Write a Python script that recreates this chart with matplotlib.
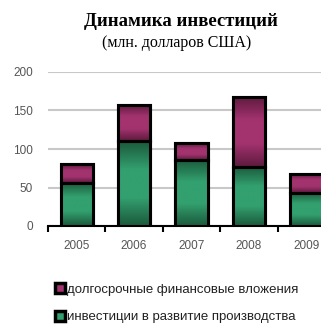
import numpy as np
import matplotlib
matplotlib.use("Agg")
import matplotlib.pyplot as plt
from matplotlib.colors import LinearSegmentedColormap
from matplotlib.patches import Rectangle
from matplotlib.lines import Line2D

years = ["2005", "2006", "2007", "2008", "2009"]
production = [56, 110, 86, 77, 43]
financial = [24, 47, 22, 91, 25]
series_names = ["долгосрочные финансовые вложения", "инвестиции в развитие производства"]
y_ticks = [0, 50, 100, 150, 200]

green_dark, green_light = "#1b5a3c", "#33a06f"
mag_dark, mag_light = "#5e1a3e", "#a3336f"

fig = plt.figure(figsize=(3.21, 3.25), dpi=100)
ax = fig.add_axes([48/321, 1-226/325, 287/321, 154/325])

x = np.arange(len(years))
w = 0.56
b1 = ax.bar(x, production, width=w, color=green_light, edgecolor="black", linewidth=2.2, zorder=3)
b2 = ax.bar(x, financial, width=w, bottom=production, color=mag_light, edgecolor="black", linewidth=2.2, zorder=3)

def grad(bars, dark, light):
    cmap = LinearSegmentedColormap.from_list("g", [dark, light, light, dark])
    g = np.linspace(0, 1, 64).reshape(-1, 1)
    for b in bars:
        xx, yy = b.get_x(), b.get_y()
        im = ax.imshow(g, cmap=cmap, aspect="auto", extent=[xx, xx+b.get_width(), yy, yy+b.get_height()],
                       origin="lower", zorder=3.5, interpolation="bicubic")
        im.set_clip_path(b)
        r = Rectangle((xx, yy), b.get_width(), b.get_height(), fill=False, edgecolor="black", linewidth=2.2, zorder=4)
        ax.add_patch(r)

grad(b1, green_dark, green_light)
grad(b2, mag_dark, mag_light)

ax.set_xlim(-0.5, len(years)-0.5)
ax.set_ylim(0, 200)
ax.set_yticks(y_ticks)
ax.set_yticklabels([str(v) for v in y_ticks])
ax.set_xticks(x)
ax.set_xticklabels(years)
ax.set_xticks(np.arange(len(years)+1)-0.5, minor=True)
ax.yaxis.grid(True, color="#c8c8c8", linewidth=1.5, zorder=0)
ax.set_axisbelow(True)
for s in ["top", "right", "left"]:
    ax.spines[s].set_visible(False)
ax.spines["bottom"].set_color("black")
ax.spines["bottom"].set_linewidth(1.5)
ax.tick_params(axis="y", length=0, pad=11, labelsize=8.5, labelcolor="#555555")
ax.tick_params(axis="x", which="major", length=0, pad=10, labelsize=8.5, labelcolor="#555555")
ax.tick_params(axis="x", which="minor", length=4, width=1.5, color="black", direction="out")
for t in ax.get_xticklabels() + ax.get_yticklabels():
    t.set_fontfamily("Liberation Sans")

fig.text(181/321, 1-21/325, "Динамика инвестиций", ha="center", va="center",
         fontsize=13.5, fontweight="bold", family="Liberation Serif")
fig.text(177/321, 1-43/325, "(млн. долларов США)", ha="center", va="center",
         fontsize=11.5, family="Liberation Serif")

handles = [Line2D([], [], marker="s", linestyle="none", markersize=7, markerfacecolor=mag_light,
                  markeredgecolor="black", markeredgewidth=2.5),
           Line2D([], [], marker="s", linestyle="none", markersize=7, markerfacecolor=green_light,
                  markeredgecolor="black", markeredgewidth=2.5)]
fig.legend(handles, series_names, loc="upper left", bbox_to_anchor=(52/321, 1-281/325), frameon=False,
           handlelength=0.75, handletextpad=0.2, labelspacing=1.15, borderaxespad=0, borderpad=0.2,
           prop={"family": "Liberation Sans", "size": 9.5})
for t in fig.legends[0].get_texts():
    t.set_color("#222222")

fig.savefig("out.png", dpi=100)
